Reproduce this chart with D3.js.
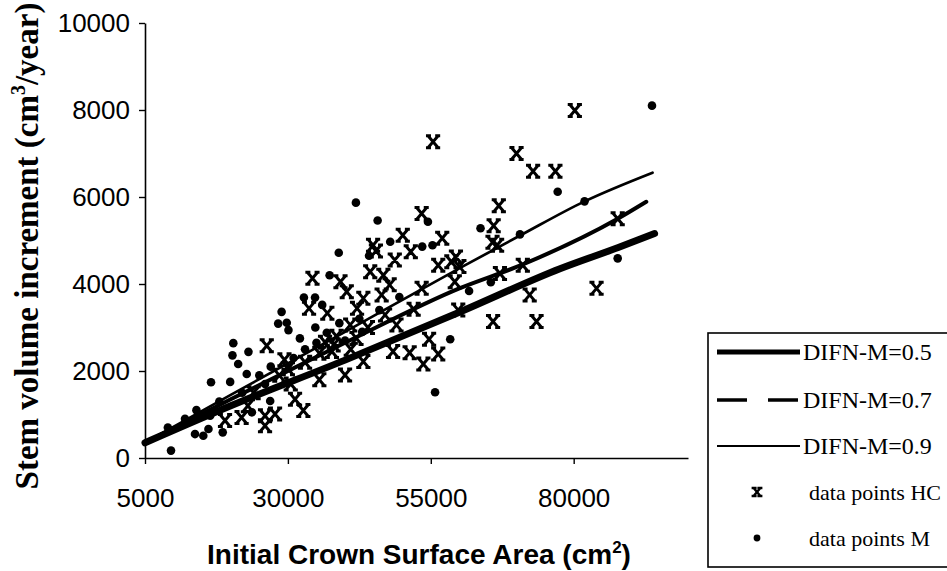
<!DOCTYPE html>
<html>
<head>
<meta charset="utf-8">
<script src="https://cdn.jsdelivr.net/npm/d3@7"></script>
<style>
  body { margin: 0; background: #fff; }
  svg { display: block; }
  .tick text { font-family: "Liberation Sans", Arial, sans-serif; font-size: 26px; fill: #000; }
</style>
</head>
<body>
<svg width="947" height="571"></svg>
<script>
// stem volume increment vs initial crown surface area
// values

const xTicks = [5000, 30000, 55000, 80000]
const yTicks = [0, 2000, 4000, 6000, 8000, 10000]

// data points HC (crosses)
const hcArea = [80200, 55400, 70000, 72900, 76800, 66900, 66000, 66600, 65800, 53400,
	57000, 58600, 59400, 56300, 60000, 71100, 67100, 59200, 53400, 72300,
	59800, 65900, 73500, 87700, 84000, 54700, 51300, 53700, 56300, 52000,
	50100, 51500, 44900, 45400, 48700, 44400, 46700, 47800, 39200, 40300,
	34300, 33700, 36900, 43200, 46400, 42100, 40900, 47000, 49000, 26300,
	29400, 35500, 31250, 32700, 35500, 40000, 43200, 48400, 26000, 27750,
	26000, 21900, 19000, 36500, 37700, 30000, 24000, 28500, 38500, 42000,
	38000, 44000, 41000, 33000, 30500, 23000]
const hcIncrement = [7990, 7270, 7000, 6590, 6590, 5800, 5340, 4890, 4960, 5620,
	5050, 4510, 4620, 4430, 4400, 4430, 4240, 4050, 3900, 3750,
	3400, 3140, 3140, 5500, 3900, 2730, 2420, 2160, 2390, 3420,
	5120, 4740, 4890, 4760, 4550, 4280, 4200, 3980, 4050, 3820,
	4130, 3440, 3330, 3670, 3750, 3440, 3060, 3290, 3060, 2580,
	2260, 2410, 1350, 1090, 1800, 1910, 2220, 2450, 970, 1010,
	740, 930, 860, 2660, 2450, 2050, 1500, 1900, 2800, 2750,
	2600, 3000, 2500, 2200, 1700, 1200]

// data points M (dots)
const mArea = [93700, 77200, 81900, 87700, 63700, 70600, 54500, 55300, 53500, 65500,
	61700, 58400, 55750, 41900, 45700, 47900, 38900, 37300, 32800, 34750,
	28900, 28300, 29800, 30100, 32100, 20450, 23100, 20300, 21300, 22800,
	16550, 19900, 26900, 23700, 18600, 13750, 15200, 16100, 16400, 9550,
	36000, 34800, 36800, 12000, 14000, 25000, 27000, 40000, 43000, 46000,
	49500, 33000, 44200, 9000, 18000, 31000, 35000, 39000, 42500, 22000, 26000]
const mIncrement = [8100, 6120, 5900, 4590, 5280, 5140, 5430, 4890, 4860, 4040,
	3840, 2730, 1510, 5870, 5460, 4970, 4720, 4200, 3690, 3690,
	3360, 3090, 3110, 2940, 2750, 2640, 2440, 2360, 2160, 1930,
	1740, 1750, 1310, 1050, 590, 550, 510, 665, 970, 170,
	3520, 3000, 2880, 900, 1100, 1900, 2100, 2700, 2900, 3400,
	3700, 2500, 4650, 700, 1300, 2300, 2650, 3100, 3200, 1500, 1700]

// model curves
const area05 = [5000, 20000, 40000, 60000, 77600, 87800, 94150]
const difn05 = [350, 1200, 2250, 3350, 4350, 4840, 5160]
const area07 = [5000, 20000, 40000, 60000, 71100, 87700, 92700]
const difn07 = [350, 1350, 2650, 3900, 4450, 5500, 5890]
const area09 = [5000, 20000, 40000, 60700, 70700, 81900, 93800]
const difn09 = [350, 1450, 2900, 4410, 5120, 5900, 6560]

const legendLabels = ['DIFN-M=0.5', 'DIFN-M=0.7', 'DIFN-M=0.9', 'data points HC', 'data points M']

const svg = d3.select('svg')

const x = d3.scaleLinear().domain([5000, 100000]).range([145, 688])
const y = d3.scaleLinear().domain([0, 10000]).range([458, 23])

// cross marker with little serifs, like the old excel "x"
const crossPath = (s) => {
	const h = s, w = s * 0.85
	return `M${-w},${-h}L${w},${h}M${w},${-h}L${-w},${h}` +
		`M${-w - 2},${-h}H${-w + 3}M${w - 3},${-h}H${w + 2}` +
		`M${-w - 2},${h}H${-w + 3}M${w - 3},${h}H${w + 2}`
}

// axes
const xAxis = svg.append('g')
	.attr('transform', `translate(0,${y(0)})`)
	.call(d3.axisBottom(x).tickValues(xTicks).tickSize(6).tickSizeOuter(0).tickPadding(25).tickFormat(d3.format('d')))
xAxis.select('.domain').attr('stroke', '#000').attr('stroke-width', 1.6)
xAxis.selectAll('.tick line').attr('stroke', '#000').attr('stroke-width', 1.4)

const yAxis = svg.append('g')
	.attr('transform', `translate(${x(5000)},0)`)
	.call(d3.axisLeft(y).tickValues(yTicks).tickSize(6).tickSizeOuter(0).tickPadding(9).tickFormat(d3.format('d')))
yAxis.select('.domain').attr('stroke', '#000').attr('stroke-width', 1.6)
yAxis.selectAll('.tick line').attr('stroke', '#000').attr('stroke-width', 1.4)

// axis titles
const yTitle = svg.append('text')
	.attr('transform', 'translate(38,246) rotate(-90)')
	.attr('text-anchor', 'middle')
	.style('font-family', '"Liberation Serif", "Times New Roman", serif')
	.style('font-weight', 'bold')
	.style('font-size', '33px')
yTitle.append('tspan').text('Stem volume increment (cm')
yTitle.append('tspan').attr('dy', -13).style('font-size', '20px').text('3')
yTitle.append('tspan').attr('dy', 13).text('/year)')

const xTitle = svg.append('text')
	.attr('x', 419)
	.attr('y', 564)
	.attr('text-anchor', 'middle')
	.style('font-family', '"Liberation Sans", Arial, sans-serif')
	.style('font-weight', 'bold')
	.style('font-size', '28px')
xTitle.append('tspan').text('Initial Crown Surface Area (cm')
xTitle.append('tspan').attr('dy', -11).style('font-size', '17px').text('2')
xTitle.append('tspan').attr('dy', 11).text(')')

// points
const hcData = hcArea.map((a, i) => ({area: a, inc: hcIncrement[i]}))
const mData = mArea.map((a, i) => ({area: a, inc: mIncrement[i]}))

svg.append('g')
	.selectAll('circle')
	.data(mData)
	.join('circle')
	.attr('cx', d => x(d.area))
	.attr('cy', d => y(d.inc))
	.attr('r', 4.3)
	.attr('fill', '#000')

svg.append('g')
	.selectAll('path')
	.data(hcData)
	.join('path')
	.attr('transform', d => `translate(${x(d.area)},${y(d.inc)})`)
	.attr('d', crossPath(6))
	.attr('fill', 'none')
	.attr('stroke', '#000')
	.attr('stroke-width', 3)

// model lines
const lineGen = d3.line().x(d => x(d[0])).y(d => y(d[1])).curve(d3.curveMonotoneX)
const curves = [
	{pts: d3.zip(area05, difn05), w: 7},
	{pts: d3.zip(area07, difn07), w: 4},
	{pts: d3.zip(area09, difn09), w: 2.7}
]
svg.append('g')
	.selectAll('path')
	.data(curves)
	.join('path')
	.attr('d', d => lineGen(d.pts))
	.attr('fill', 'none')
	.attr('stroke', '#000')
	.attr('stroke-width', d => d.w)
	.attr('stroke-linecap', 'round')

// legend
const legend = svg.append('g').attr('transform', 'translate(708,333)')
legend.append('rect')
	.attr('width', 250)
	.attr('height', 234)
	.attr('fill', '#fff')
	.attr('stroke', '#000')
	.attr('stroke-width', 1.6)

const rowY = [19, 67, 113, 159, 205]
const legendStyles = [
	{w: 5, dash: null},
	{w: 3.5, dash: '30,21'},
	{w: 2.2, dash: null}
]
legendStyles.forEach((s, i) => {
	legend.append('line')
		.attr('x1', 9).attr('x2', 92)
		.attr('y1', rowY[i]).attr('y2', rowY[i])
		.attr('stroke', '#000')
		.attr('stroke-width', s.w)
		.attr('stroke-dasharray', s.dash)
})
legend.append('path')
	.attr('transform', `translate(49,${rowY[3]})`)
	.attr('d', crossPath(4))
	.attr('fill', 'none')
	.attr('stroke', '#000')
	.attr('stroke-width', 2.4)
legend.append('circle')
	.attr('cx', 49).attr('cy', rowY[4]).attr('r', 3.4).attr('fill', '#000')

legend.selectAll('.legend-label')
	.data(legendLabels)
	.join('text')
	.attr('class', 'legend-label')
	.attr('x', (d, i) => i < 3 ? 95 : 101)
	.attr('y', (d, i) => rowY[i] + 8)
	.style('font-family', '"Liberation Serif", "Times New Roman", serif')
	.style('font-size', (d, i) => i < 3 ? '24px' : '22px')
	.text(d => d)
</script>
</body>
</html>
